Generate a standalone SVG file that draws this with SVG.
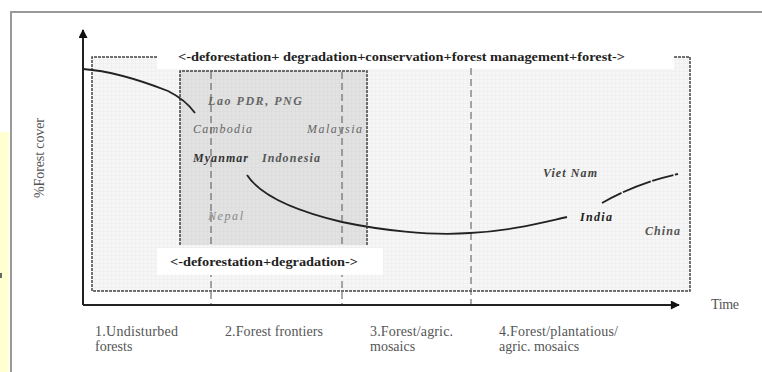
<svg xmlns="http://www.w3.org/2000/svg" width="762" height="372" viewBox="0 0 762 372">
<defs>
<pattern id="gridL" width="4" height="4" patternUnits="userSpaceOnUse">
<rect width="4" height="4" fill="#f6f6f6"/>
<path d="M4,0V4M0,4H4" stroke="#e6e6e6" stroke-width="0.6" fill="none"/>
</pattern>
<pattern id="gridD" width="4" height="4" patternUnits="userSpaceOnUse">
<rect width="4" height="4" fill="#e2e2e2"/>
<path d="M4,0V4M0,4H4" stroke="#d2d2d2" stroke-width="0.6" fill="none"/>
</pattern>
<marker id="arr" viewBox="0 0 10 10" refX="9" refY="5" markerWidth="10" markerHeight="9" markerUnits="userSpaceOnUse" orient="auto">
<path d="M0,0L10,5L0,10z" fill="#111"/>
</marker>
</defs>
<style>
.frame{stroke:#999;stroke-width:2;fill:none}
.box{stroke:#444;stroke-width:1.5;stroke-dasharray:3,1;fill:none}
.vdash{stroke:#555;stroke-width:1;stroke-dasharray:7,4;fill:none}
.axis{stroke:#222;stroke-width:2;fill:none}
.curve{stroke:#222;stroke-width:1.8;fill:none}
.big{font-family:"Liberation Serif",serif;font-weight:bold;font-size:13px;fill:#222}
.ctry{font-family:"Liberation Serif",serif;font-style:italic;font-size:12px}
.lbl{font-family:"Liberation Serif",serif;font-size:14px;fill:#555}
</style>
<rect width="762" height="372" fill="#fff"/>
<rect x="0" y="132" width="9" height="240" fill="#ffffd2"/>
<rect x="0" y="273" width="2" height="5" fill="#666"/>
<path class="frame" d="M11,372V12H762"/>

<g id="background">
<rect x="92" y="57" width="598" height="234" fill="url(#gridL)"/>
<rect x="157" y="46" width="517" height="23" fill="#fff"/>
<rect x="180" y="71" width="187" height="174" fill="url(#gridD)"/>
<path class="box" d="M157,57H92V291H690V57H674"/>
<path class="box" d="M180,245V71H367V245"/>
</g>

<g id="connectors">
<path class="vdash" d="M211,72V304"/>
<path class="vdash" d="M342,72V304"/>
<path class="vdash" d="M471,68V304"/>
<path class="axis" d="M83,305V30" marker-end="url(#arr)"/>
<path class="axis" d="M83,305H679" marker-end="url(#arr)"/>
<path class="curve" d="M83,69 C110,71 140,80 168,91 C182,98 190,106 195,113"/>
<path class="curve" d="M247,175 C262,198 300,212 342,222 C380,230 430,236 470,233 C510,231 540,223 567,217"/>
<path class="curve" d="M602,203 C625,190 650,180 678,174" stroke-dasharray="22,1.5,30,1.5"/>
</g>

<g id="label-top">
<text class="big" x="178" y="61" textLength="447" lengthAdjust="spacingAndGlyphs">&lt;-deforestation+ degradation+conservation+forest management+forest-&gt;</text>
</g>
<g id="label-defor">
<rect x="157" y="248" width="226" height="27" fill="#fff"/>
<text class="big" x="170" y="266" textLength="188" lengthAdjust="spacingAndGlyphs">&lt;-deforestation+degradation-&gt;</text>
</g>

<g id="countries">
<text class="ctry" x="208" y="105" font-weight="bold" fill="#666" textLength="94">Lao PDR, PNG</text>
<text class="ctry" x="193" y="133" fill="#666" textLength="59">Cambodia</text>
<text class="ctry" x="307" y="133" fill="#666" textLength="55">Malaysia</text>
<text class="ctry" x="193" y="162" font-weight="bold" fill="#333" textLength="55">Myanmar</text>
<text class="ctry" x="262" y="162" font-weight="bold" fill="#555" textLength="58">Indonesia</text>
<text class="ctry" x="208" y="220" fill="#888" textLength="35">Nepal</text>
<text class="ctry" x="543" y="177" font-weight="bold" fill="#444" textLength="54">Viet Nam</text>
<text class="ctry" x="580" y="221" font-weight="bold" fill="#222" textLength="32">India</text>
<text class="ctry" x="645" y="235" font-weight="bold" fill="#555" textLength="35">China</text>
</g>

<g id="axis-labels">
<text class="lbl" font-size="11" transform="translate(44,158) rotate(-90)" text-anchor="middle" textLength="80">%Forest cover</text>
<text class="lbl" x="711" y="309" textLength="28">Time</text>
</g>

<g id="stages">
<text class="lbl" x="95" y="336" textLength="83">1.Undisturbed</text>
<text class="lbl" x="95" y="351">forests</text>
<text class="lbl" x="225" y="336" textLength="98">2.Forest frontiers</text>
<text class="lbl" x="370" y="336" textLength="83">3.Forest/agric.</text>
<text class="lbl" x="370" y="351">mosaics</text>
<text class="lbl" x="499" y="336" textLength="119">4.Forest/plantatious/</text>
<text class="lbl" x="499" y="351">agric. mosaics</text>
</g>
</svg>
